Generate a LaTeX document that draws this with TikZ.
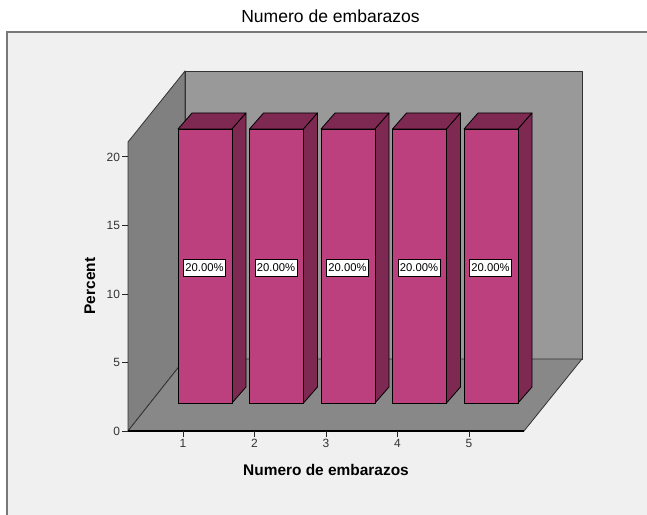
\documentclass[tikz,border=0pt]{standalone}
\usepackage{fontspec}
\setmainfont{Liberation Sans}
\usepackage{tikz}
\usetikzlibrary{positioning}
\definecolor{barpink}{RGB}{187,64,125}
\definecolor{bardark}{RGB}{125,41,81}
\definecolor{wallback}{RGB}{153,153,153}
\definecolor{wallleft}{RGB}{128,128,128}
\definecolor{floorgray}{RGB}{136,136,136}
\definecolor{chartbg}{RGB}{240,240,240}
\definecolor{framegray}{RGB}{120,120,120}
\tikzstyle{wall}=[draw=black!80,line width=0.8bp,line join=round]
\tikzstyle{barface}=[fill=barpink,draw=black,line width=0.8bp]
\tikzstyle{barshade}=[fill=bardark,draw=black,line width=0.8bp,line join=round]
\tikzstyle{valuebox}=[draw=black,fill=white,line width=0.6bp,inner xsep=2bp,inner ysep=0pt,minimum height=17bp,font=\fontsize{11.3}{11.3}\selectfont]
\tikzstyle{ticklabel}=[text=black!80,inner sep=1.5bp,font=\fontsize{12}{12}\selectfont]
\tikzstyle{axistitle}=[font=\bfseries\fontsize{15.5}{15.5}\selectfont,inner sep=0pt]
\tikzstyle{tick} = [draw,line width=1bp,black!85]

\begin{document}
\begin{tikzpicture}[x=1bp,y=-1bp]

    \useasboundingbox (0,0) rectangle (647,515);
    \fill[chartbg] (7,32) rectangle (647,515);
    \draw[framegray, line width=1.2bp] (7,515) -- (7,32) -- (647,32);

    \node[font=\fontsize{17.6}{17.6}\selectfont, anchor=base, inner sep=0pt] (title) at (330.5,23) {Numero de embarazos};

    % box corners
    \coordinate (O) at (128,431);
    \coordinate (Otop) at (128,142);
    \coordinate (Oright) at (524,431);
    \coordinate (B) at (185,359);
    \coordinate (Btop) at (185,71);
    \coordinate (Bright) at (582,359);
    \coordinate (Btopright) at (582,71);

    \filldraw[wall, fill=wallleft] (O) -- (Otop) -- (Btop) -- (B) -- cycle;
    \filldraw[wall, fill=wallback] (Btop) -- (Btopright) -- (Bright) -- (B) -- cycle;
    \filldraw[wall, fill=floorgray] (O) -- (B) -- (Bright) -- (Oright) -- cycle;
    \draw[line width=1.6bp] (O) -- (Oright);

    \foreach \v in {0,5,10,15,20} {
        \coordinate (YT\v) at (128,431-\v*13.7);
        \path[tick] (YT\v) -- ++(-6,0) node[ticklabel, anchor=east] (Y\v) {\v};
    }

    \foreach \x in {1,...,5} {
        \coordinate (XT\x) at (\x*71.5+111.5,431);
        \path[tick] (XT\x) -- ++(0,6) node[ticklabel, anchor=north] (X\x) {\x};
    }

%    \foreach \x in {1,...,5} \node at (\x*71.5+133.5,120) {\x};
    \foreach \x in {1,...,5} {
        \filldraw[barshade] (\x*71.5+106.5,129) -- ++(14,-16) -- ++(54,0) -- ++(-14,16) -- cycle;
        \filldraw[barshade] (\x*71.5+160.5,129) -- ++(14,-16) -- ++(0,274) -- ++(-14,16) -- cycle;
        \filldraw[barface] (\x*71.5+106.5,129) rectangle ++(54,274);
        \node[valuebox] (L\x) at (\x*71.5+133,267.5) {20.00\%};
    }

    \node[axistitle, anchor=base] (xtitle) at (326,475) {Numero de embarazos};
    \node[axistitle, rotate=90, anchor=base] (ytitle) at (95,286) {Percent};

\end{tikzpicture}
\end{document}
